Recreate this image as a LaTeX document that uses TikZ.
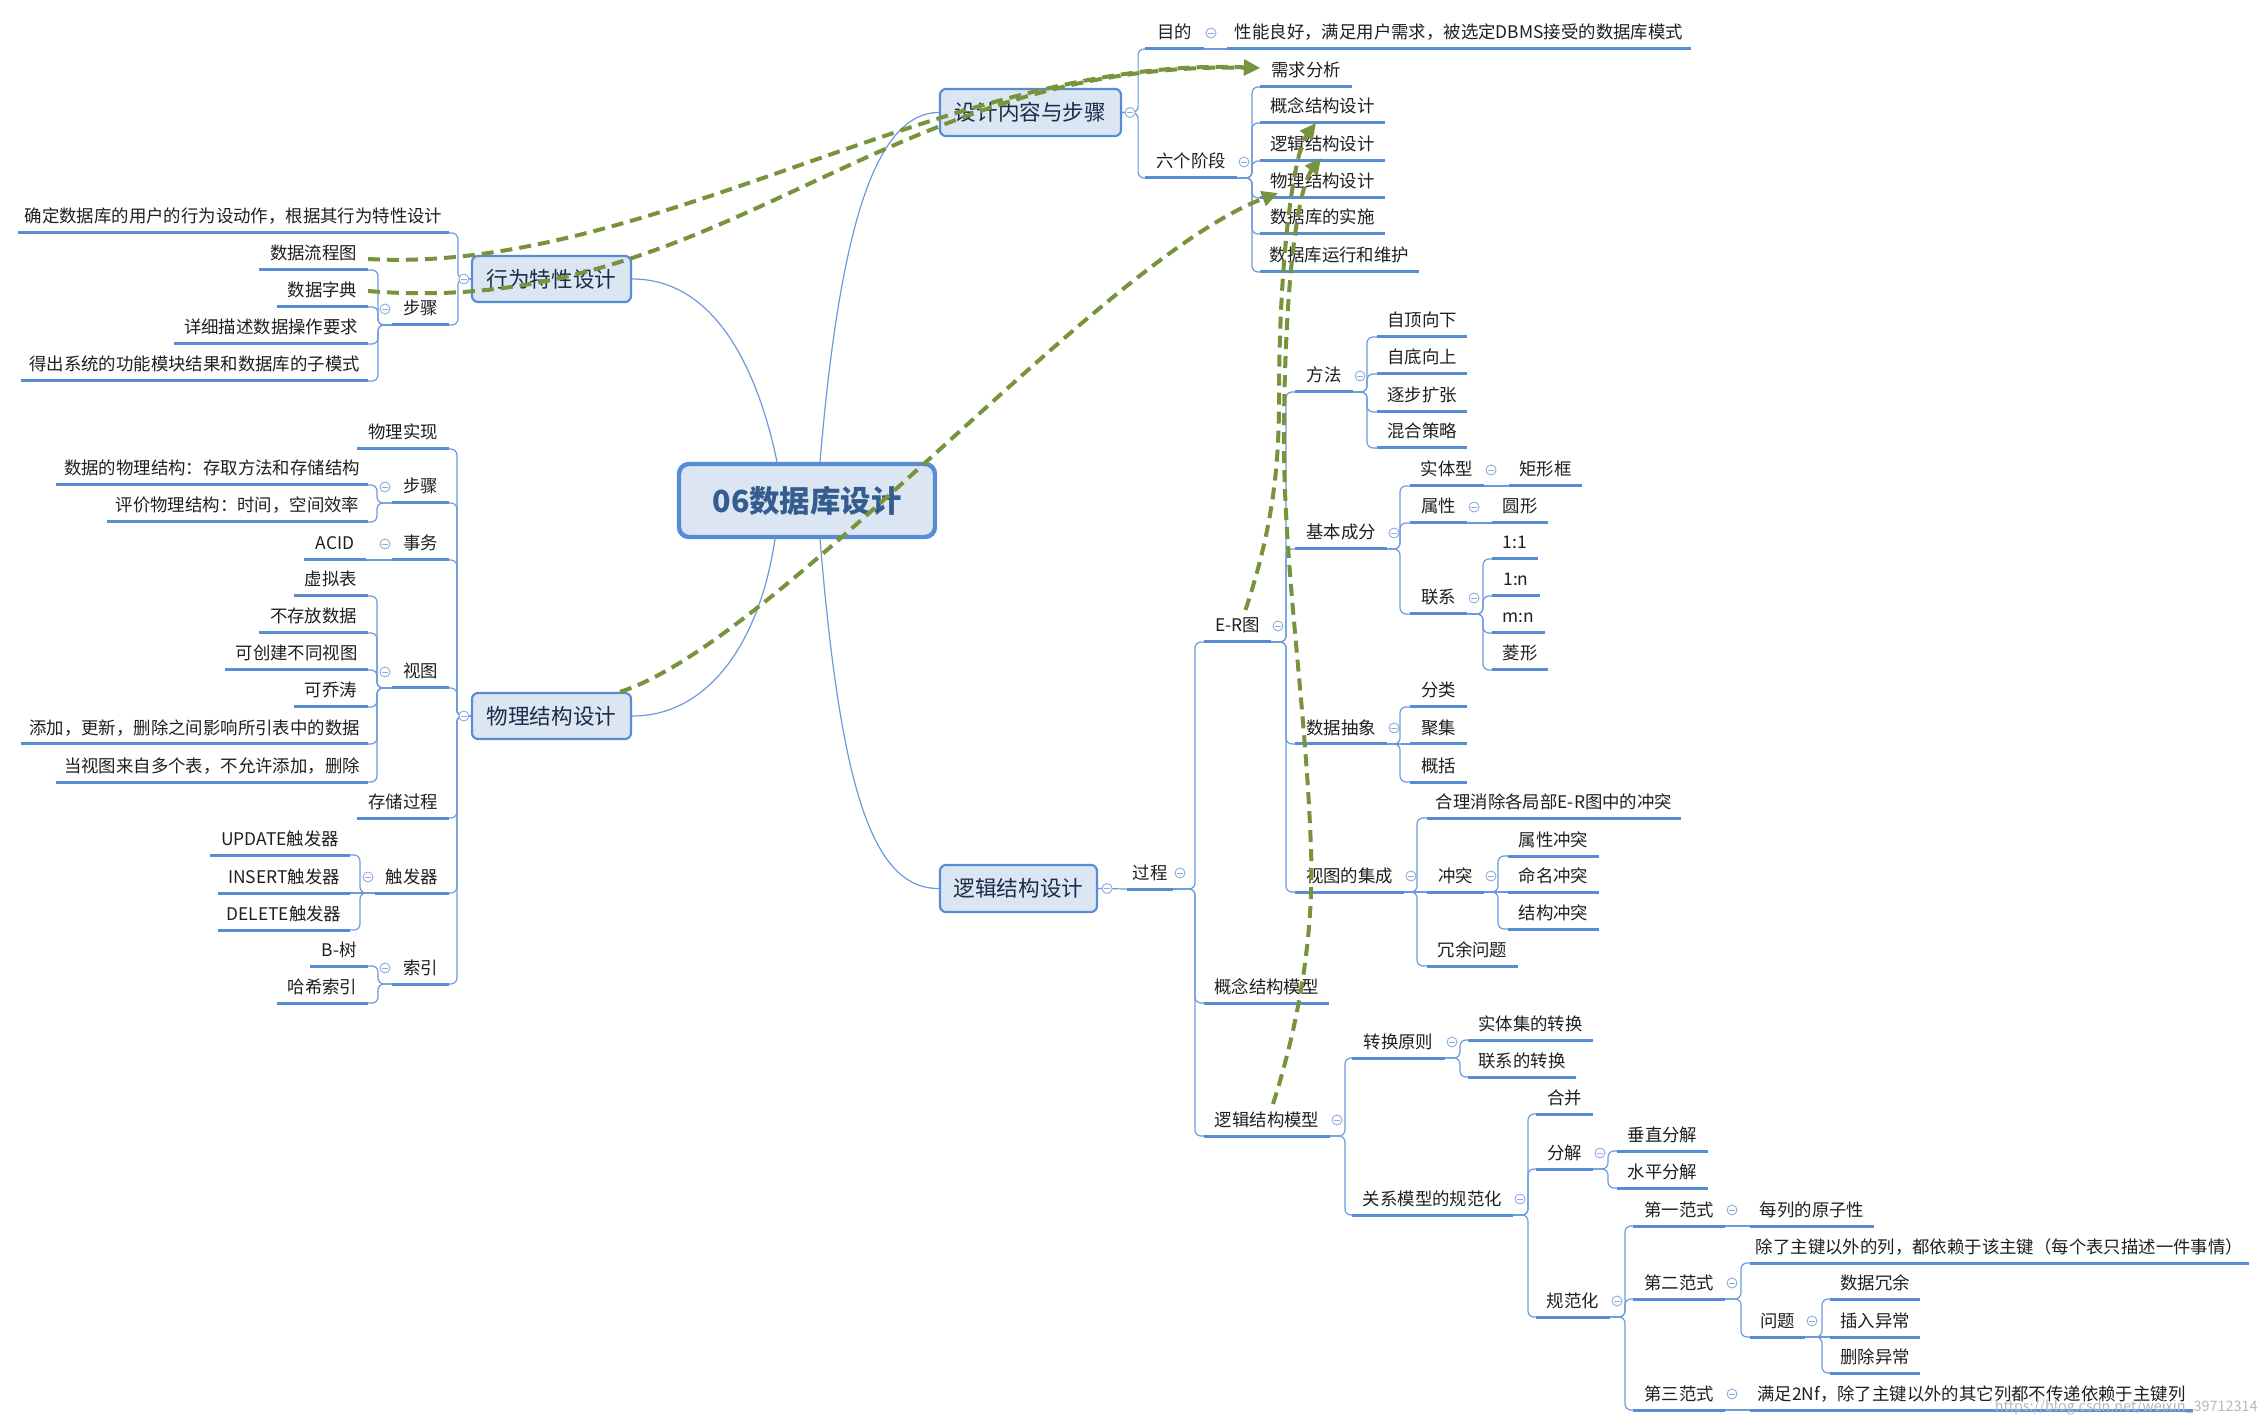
\documentclass[tikz,border=0pt]{standalone}
\usepackage{fontspec}
\newfontfamily\cjk{Noto Sans CJK SC}
\usetikzlibrary{arrows.meta,calc}
\definecolor{lb}{RGB}{86,141,213}
\definecolor{lbthin}{RGB}{108,154,220}
\definecolor{bfill}{RGB}{220,230,242}
\definecolor{btext}{RGB}{26,44,74}
\definecolor{rtext}{RGB}{52,92,142}
\definecolor{gr}{RGB}{119,147,60}
\definecolor{clc}{RGB}{140,172,222}
\tikzset{
  leaf/.style={anchor=south, font=\cjk\fontsize{8.7}{10}\selectfont, text height=7.2pt, text depth=1.2pt,
    inner xsep=2pt, inner ysep=3.8pt, outer sep=0pt, text=black!88},
  uline/.style={draw=lb, line width=1.5pt},
  conn/.style={draw=lbthin, line width=0.6pt, rounded corners=3pt},
  curveconn/.style={draw=lbthin, line width=0.6pt},
  topic/.style={draw=lb, line width=1.1pt, fill=bfill, rounded corners=3pt,
    font=\cjk\fontsize{10.8}{12}\selectfont, text=btext, inner sep=0pt},
  rootbox/.style={draw=lb, line width=2.2pt, fill=bfill, rounded corners=5pt,
    minimum width=128pt, minimum height=36.5pt, inner sep=0pt,
    font=\cjk\bfseries\fontsize{15.2}{17}\selectfont, text=rtext},
  clp/.style={circle, draw=clc, fill=white, line width=0.45pt, minimum size=5pt, inner sep=0pt,
    path picture={\draw[clc, line width=0.45pt] ([xshift=-1.4pt]path picture bounding box.center) -- ([xshift=1.4pt]path picture bounding box.center);}},
  rel/.style={draw=gr, line width=2pt, dash pattern=on 6pt off 3.5pt, -{Triangle[length=8pt,width=7.5pt]}}
}
\newcommand\mmleaf[5]{\node[leaf, minimum width={(#3-#2)*0.5pt}] (#1) at ({(#2+#3)/2},#4) {#5};\draw[uline] (#1.south west) -- (#1.south east);}
\newcommand\mmR[3]{\draw[conn] (#1.south east) -- ++(#2,0) |- (#3.south west);}
\newcommand\mmL[3]{\draw[conn] (#1.south west) -- ++(-#2,0) |- (#3.south east);}
\newcommand\mmcR[2]{\node[clp] (#1) at ([xshift=3.5pt]#2.east) {};}
\newcommand\mmcL[2]{\node[clp] (#1) at ([xshift=-3.5pt]#2.west) {};}
\begin{document}
\begin{tikzpicture}[x=0.5pt,y=-0.5pt]
\fill[white] (0,0) rectangle (2266,1427);
\useasboundingbox (0,0) rectangle (2266,1427);

% ---------- root and main topics ----------
\node[rootbox] (root) at (807,500.5) {06数据库设计};
\node[topic, minimum width=90.5pt, minimum height=23.5pt] (bB) at (1030.5,112.5) {设计内容与步骤};
\node[topic, minimum width=79.5pt, minimum height=23pt] (bA) at (551.5,279) {行为特性设计};
\node[topic, minimum width=79.5pt, minimum height=23pt] (bC) at (551.5,716) {物理结构设计};
\node[topic, minimum width=78.5pt, minimum height=23.5pt] (bD) at (1018.5,888.5) {逻辑结构设计};

\draw[curveconn] ([xshift=6.5pt]root.north) .. controls (838,250) and (870,112.5) .. (bB.west);
\draw[curveconn] ([xshift=-15pt]root.north) .. controls (760,380) and (720,279) .. (bA.east);
\draw[curveconn] ([xshift=-16pt]root.south) .. controls (760,640) and (710,716) .. (bC.east);
\draw[curveconn] ([xshift=6.5pt]root.south) .. controls (840,780) and (870,889) .. (bD.west);

% ---------- 设计内容与步骤 ----------
\mmleaf{mudi}{1145}{1204}{49}{目的}
\mmleaf{mudiT}{1227}{1691}{49}{性能良好，满足用户需求，被选定DBMS接受的数据库模式}
\mmleaf{liu}{1145}{1237}{178}{六个阶段}
\mmleaf{s1}{1260}{1352}{87}{需求分析}
\mmleaf{s2}{1260}{1385}{123}{概念结构设计}
\mmleaf{s3}{1260}{1385}{161}{逻辑结构设计}
\mmleaf{s4}{1260}{1385}{198}{物理结构设计}
\mmleaf{s5}{1260}{1385}{234}{数据库的实施}
\mmleaf{s6}{1260}{1419}{272}{数据库运行和维护}
\draw[conn] (bB.east) -- ++(16,0) |- (mudi.south west);
\draw[conn] (bB.east) -- ++(16,0) |- (liu.south west);
\draw[conn] (mudi.south east) -- (mudiT.south west);
\foreach \c in {s1,s2,s3,s4,s5,s6} {\mmR{liu}{15}{\c}}
\node[clp] (kB) at ([xshift=4pt]bB.east) {};
\mmcR{kmudi}{mudi}
\mmcR{kliu}{liu}

% ---------- 行为特性设计 ----------
\mmleaf{a1}{18}{449}{233}{确定数据库的用户的行为设动作，根据其行为特性设计}
\mmleaf{a2}{392}{449}{325}{步骤}
\mmleaf{a21}{259}{368}{270}{数据流程图}
\mmleaf{a22}{277}{368}{307}{数据字典}
\mmleaf{a23}{174}{368}{344}{详细描述数据操作要求}
\mmleaf{a24}{21}{368}{381}{得出系统的功能模块结果和数据库的子模式}
\draw[conn] (bA.west) -- ++(-13,0) |- (a1.south east);
\draw[conn] (bA.west) -- ++(-13,0) |- (a2.south east);
\foreach \c in {a21,a22,a23,a24} {\mmL{a2}{14}{\c}}
\node[clp] (kA) at ([xshift=-3.5pt]bA.west) {};
\mmcL{ka2}{a2}

% ---------- 物理结构设计 ----------
\mmleaf{c1}{357}{449}{449}{物理实现}
\mmleaf{c2}{392}{449}{503}{步骤}
\mmleaf{c21}{56}{368}{485}{数据的物理结构：存取方法和存储结构}
\mmleaf{c22}{107}{368}{522}{评价物理结构：时间，空间效率}
\mmleaf{c3}{392}{449}{560}{事务}
\mmleaf{c31}{304}{366}{560}{ACID}
\mmleaf{c4}{392}{449}{688}{视图}
\mmleaf{c41}{294}{368}{596}{虚拟表}
\mmleaf{c42}{259}{368}{633}{不存放数据}
\mmleaf{c43}{225}{368}{670}{可创建不同视图}
\mmleaf{c44}{294}{368}{707}{可乔涛}
\mmleaf{c45}{21}{368}{744}{添加，更新，删除之间影响所引表中的数据}
\mmleaf{c46}{56}{368}{782}{当视图来自多个表，不允许添加，删除}
\mmleaf{c5}{357}{449}{818}{存储过程}
\mmleaf{c6}{375}{449}{893}{触发器}
\mmleaf{c61}{210}{350}{855}{UPDATE触发器}
\mmleaf{c62}{218}{350}{893}{INSERT触发器}
\mmleaf{c63}{218}{350}{930}{DELETE触发器}
\mmleaf{c7}{392}{449}{984}{索引}
\mmleaf{c71}{310}{368}{966}{B-树}
\mmleaf{c72}{277}{368}{1003}{哈希索引}
\foreach \c in {c1,c2,c3,c4,c5,c6,c7} {\draw[conn] (bC.west) -- ++(-14,0) |- (\c.south east);}
\foreach \c in {c21,c22} {\mmL{c2}{15}{\c}}
\draw[conn] (c3.south west) -- (c31.south east);
\foreach \c in {c41,c42,c43,c44,c45,c46} {\mmL{c4}{15}{\c}}
\foreach \c in {c61,c63} {\mmL{c6}{15}{\c}}
\draw[conn] (c6.south west) -- (c62.south east);
\foreach \c in {c71,c72} {\mmL{c7}{14}{\c}}
\node[clp] (kC) at ([xshift=-3.5pt]bC.west) {};
\mmcL{kc2}{c2}
\mmcL{kc3}{c3}
\mmcL{kc4}{c4}
\mmcL{kc6}{c6}
\mmcL{kc7}{c7}

% ---------- 逻辑结构设计 ----------
\mmleaf{d1}{1127}{1173}{889}{过程}
\mmleaf{er}{1204}{1271}{642}{E-R图}
\mmleaf{m}{1295}{1353}{392}{方法}
\mmleaf{m1}{1377}{1467}{337}{自顶向下}
\mmleaf{m2}{1377}{1467}{374}{自底向上}
\mmleaf{m3}{1377}{1467}{412}{逐步扩张}
\mmleaf{m4}{1377}{1467}{448}{混合策略}
\mmleaf{j}{1295}{1387}{549}{基本成分}
\mmleaf{j1}{1410}{1484}{486}{实体型}
\mmleaf{j1a}{1509}{1582}{486}{矩形框}
\mmleaf{j2}{1410}{1467}{523}{属性}
\mmleaf{j2a}{1492}{1548}{523}{圆形}
\mmleaf{j3}{1410}{1467}{614}{联系}
\mmleaf{j31}{1492}{1538}{559}{1:1}
\mmleaf{j32}{1492}{1540}{596}{1:n}
\mmleaf{j33}{1492}{1545}{633}{m:n}
\mmleaf{j34}{1492}{1548}{670}{菱形}
\mmleaf{k}{1295}{1387}{744}{数据抽象}
\mmleaf{k1}{1410}{1467}{707}{分类}
\mmleaf{k2}{1410}{1467}{744}{聚集}
\mmleaf{k3}{1410}{1467}{782}{概括}
\mmleaf{v}{1295}{1404}{892}{视图的集成}
\mmleaf{v1}{1427}{1681}{818}{合理消除各局部E-R图中的冲突}
\mmleaf{v2}{1427}{1484}{892}{冲突}
\mmleaf{v21}{1508}{1599}{856}{属性冲突}
\mmleaf{v22}{1508}{1599}{892}{命名冲突}
\mmleaf{v23}{1508}{1599}{929}{结构冲突}
\mmleaf{v3}{1427}{1518}{966}{冗余问题}
\mmleaf{gm}{1204}{1329}{1003}{概念结构模型}
\mmleaf{lm}{1204}{1330}{1136}{逻辑结构模型}
\mmleaf{t}{1352}{1445}{1058}{转换原则}
\mmleaf{t1}{1468}{1593}{1040}{实体集的转换}
\mmleaf{t2}{1468}{1576}{1077}{联系的转换}
\mmleaf{r}{1352}{1513}{1215}{关系模型的规范化}
\mmleaf{r1}{1536}{1593}{1114}{合并}
\mmleaf{r2}{1536}{1593}{1169}{分解}
\mmleaf{r21}{1617}{1708}{1151}{垂直分解}
\mmleaf{r22}{1617}{1708}{1188}{水平分解}
\mmleaf{r3}{1536}{1610}{1317}{规范化}
\mmleaf{f1}{1633}{1725}{1226}{第一范式}
\mmleaf{f1a}{1750}{1874}{1226}{每列的原子性}
\mmleaf{f2}{1633}{1725}{1299}{第二范式}
\mmleaf{f2a}{1750}{2249}{1263}{除了主键以外的列，都依赖于该主键（每个表只描述一件事情）}
\mmleaf{f2b}{1750}{1805}{1337}{问题}
\mmleaf{f2b1}{1830}{1920}{1299}{数据冗余}
\mmleaf{f2b2}{1830}{1920}{1337}{插入异常}
\mmleaf{f2b3}{1830}{1920}{1373}{删除异常}
\mmleaf{f3}{1633}{1725}{1410}{第三范式}
\mmleaf{f3a}{1750}{2193}{1410}{满足2Nf，除了主键以外的其它列都不传递依赖于主键列}

\draw[conn] (bD.east) -- (d1.south west);
\foreach \c in {er,gm,lm} {\mmR{d1}{22}{\c}}
\foreach \c in {m,j,k,v} {\mmR{er}{15}{\c}}
\foreach \c in {m1,m2,m3,m4} {\mmR{m}{14}{\c}}
\foreach \c in {j1,j2,j3} {\mmR{j}{13}{\c}}
\draw[conn] (j1.south east) -- (j1a.south west);
\draw[conn] (j2.south east) -- (j2a.south west);
\foreach \c in {j31,j32,j33,j34} {\mmR{j3}{16}{\c}}
\foreach \c in {k1,k3} {\mmR{k}{13}{\c}}
\draw[conn] (k.south east) -- (k2.south west);
\foreach \c in {v1,v3} {\mmR{v}{13}{\c}}
\draw[conn] (v.south east) -- (v2.south west);
\foreach \c in {v21,v23} {\mmR{v2}{14}{\c}}
\draw[conn] (v2.south east) -- (v22.south west);
\foreach \c in {t,r} {\mmR{lm}{15}{\c}}
\foreach \c in {t1,t2} {\mmR{t}{15}{\c}}
\foreach \c in {r1,r2,r3} {\mmR{r}{15}{\c}}
\foreach \c in {r21,r22} {\mmR{r2}{15}{\c}}
\foreach \c in {f1,f2,f3} {\mmR{r3}{15}{\c}}
\draw[conn] (f1.south east) -- (f1a.south west);
\draw[conn] (f3.south east) -- (f3a.south west);
\foreach \c in {f2a,f2b} {\mmR{f2}{16}{\c}}
\foreach \c in {f2b1,f2b3} {\mmR{f2b}{17}{\c}}
\draw[conn] (f2b.south east) -- (f2b2.south west);

\node[clp] (kD) at ([xshift=4.5pt]bD.east) {};
\mmcR{kd1}{d1}
\mmcR{ker}{er}
\mmcR{km}{m}
\mmcR{kj}{j}
\mmcR{kj1}{j1}
\mmcR{kj2}{j2}
\mmcR{kj3}{j3}
\mmcR{kk}{k}
\mmcR{kv}{v}
\mmcR{kv2}{v2}
\mmcR{klm}{lm}
\mmcR{kt}{t}
\mmcR{kr}{r}
\mmcR{kr2}{r2}
\mmcR{kr3}{r3}
\mmcR{kf1}{f1}
\mmcR{kf2}{f2}
\mmcR{kf2b}{f2b}
\mmcR{kf3}{f3}

% ---------- watermark ----------
\node[anchor=east, font=\cjk\fontsize{7.2}{8}\selectfont, text=black!28, inner sep=0pt] (wm) at (2258,1408) {https://blog.csdn.net/weixin\_39712314};

% ---------- relationship arrows ----------
\draw[rel] ([yshift=-2.5pt]a21.east) .. controls (650,275) and (950,55) .. ([yshift=1.5pt]s1.west);
\draw[rel] (a22.east) .. controls (720,320) and (880,60) .. ([yshift=1.5pt]s1.west);
\draw[rel] ([xshift=-6pt]bC.north east) .. controls (780,640) and (1100,260) .. ([shift={(9pt,2.5pt)}]s4.south west);
\draw[rel] ([xshift=4pt]er.north) .. controls (1272,530) and (1279,470) .. (1279,400) .. controls (1279,250) and (1295,150) .. ([xshift=28pt]s2.south west);
\draw[rel] ([xshift=3pt]lm.north) .. controls (1300,1020) and (1314,930) .. (1311,850) .. controls (1306,700) and (1282,560) .. (1284,420) .. controls (1286,260) and (1300,185) .. ([shift={(30.5pt,1.5pt)}]s3.south west);
\end{tikzpicture}
\end{document}
